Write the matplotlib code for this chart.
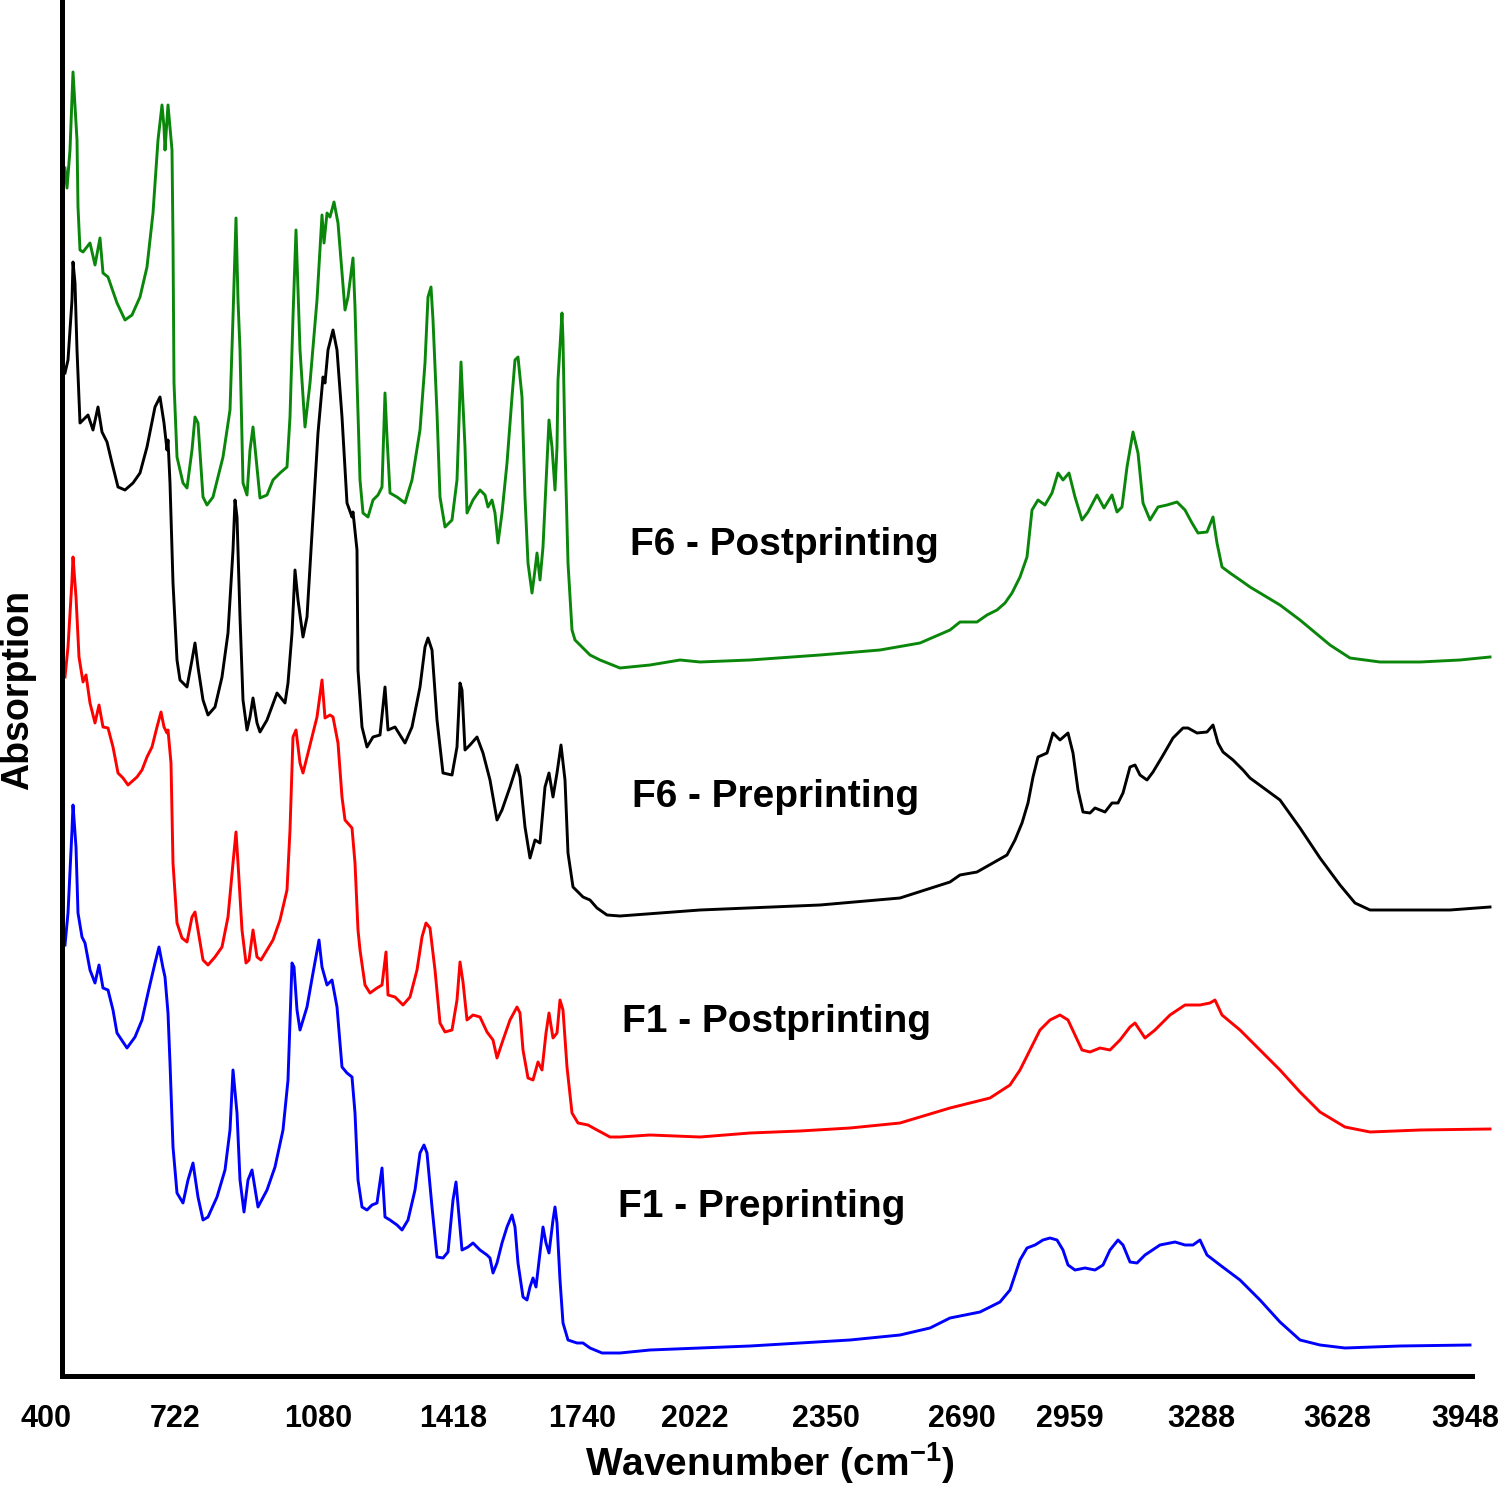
import numpy as np
import matplotlib
matplotlib.use("Agg")
import matplotlib.pyplot as plt

# stacked FTIR spectra (arbitrary absorption units)
green_wn = [447.5, 452.5, 460, 467.5, 477.5, 480, 485, 492.5, 510, 522.5, 535, 542.5, 555, 577.5, 597.5,
            615, 635, 652.5, 667.5, 680, 690, 695, 697.5, 705, 715, 717.5, 720, 727.5, 742.5, 752.5,
            765, 772.5, 780, 792.5, 802.5, 817.5, 842.5, 860, 867.5, 875, 880, 885, 892.5, 902.5, 910,
            917.5, 927.5, 935, 952.5, 967.5, 985, 1002.5, 1010, 1017.5, 1025, 1035, 1047.5, 1060, 1077.5,
            1090, 1095, 1102.5, 1110, 1120, 1130, 1140, 1147.5, 1155, 1167.5, 1172.5, 1177.5, 1185, 1192.5,
            1205, 1217.5, 1230, 1240, 1247.5, 1252.5, 1260, 1277.5, 1297.5, 1315, 1335, 1347.5, 1355,
            1362.5, 1367.5, 1377.5, 1385, 1397.5, 1415, 1427.5, 1437.5, 1447.5, 1452.5, 1467.5, 1485,
            1497.5, 1505, 1515, 1522.5, 1530, 1540, 1552.5, 1565, 1572.5, 1580, 1590, 1597.5, 1605, 1615,
            1622.5, 1627.5, 1635, 1642.5, 1652.5, 1657.5, 1665, 1672.5, 1677.5, 1680, 1690, 1692.5, 1697.5,
            1705, 1715, 1722.5, 1760, 1785, 1835, 1910, 1985, 2035, 2160, 2335, 2485, 2585, 2660, 2685,
            2727.5, 2752.5, 2777.5, 2797.5, 2815, 2835, 2852.5, 2865, 2880, 2897.5, 2915, 2930, 2942.5,
            2957.5, 2972.5, 2990, 3005, 3027.5, 3045, 3065, 3077.5, 3090, 3102.5, 3117.5, 3130, 3142.5,
            3160, 3180, 3202.5, 3227.5, 3247.5, 3265, 3280, 3302.5, 3317.5, 3327.5, 3340, 3360, 3392.5,
            3410, 3485, 3535, 3610, 3660, 3735, 3835, 3935, 4010]
green_abs = [120.8, 118.8, 122.6, 130.4, 123.6, 116.9, 112.6, 112.4, 113.3, 111.1, 113.8, 110.3, 109.9, 107.3, 105.6,
             106.1, 107.9, 110.9, 116.3, 123.6, 127.1, 124.9, 122.6, 127.1, 122.6, 113.6, 99.3, 91.9, 89.3, 88.8,
             92.6, 95.9, 95.3, 87.9, 87.1, 87.9, 91.9, 96.6, 105.9, 115.8, 107.6, 102.6, 89.3, 88.1, 92.6,
             94.9, 90.9, 87.8, 88.1, 89.6, 90.3, 90.9, 95.9, 105.9, 114.6, 102.6, 94.9, 99.3, 107.6,
             116.1, 113.3, 116.3, 115.9, 117.4, 115.3, 110.3, 106.6, 107.9, 111.8, 106.9, 99.6, 89.6, 86.3,
             85.9, 87.6, 88.1, 88.9, 98.3, 93.9, 88.3, 87.9, 87.3, 89.6, 94.6, 101.3, 107.9,
             108.9, 105.6, 96.3, 87.9, 84.9, 85.6, 89.6, 101.4, 92.9, 86.3, 87.6, 88.6,
             88.1, 86.9, 87.6, 86.3, 83.3, 86.3, 91.3, 97.9, 101.6, 101.9, 97.9, 87.9, 81.3, 78.3,
             80.6, 82.3, 79.6, 82.9, 91.3, 95.6, 92.9, 88.6, 92.9, 99.6, 106.3, 103.6, 92.9,
             81.3, 74.6, 73.6, 72.1, 71.6, 70.8, 71.1, 71.6, 71.4, 71.6, 72.1, 72.6, 73.3, 74.6, 75.4,
             75.4, 76.1, 76.6, 77.3, 78.3, 79.9, 81.9, 86.6, 87.6, 87.1, 88.3, 90.3, 89.6,
             90.3, 87.9, 85.6, 86.4, 88.1, 86.8, 88.1, 86.4, 86.9, 90.9, 94.4, 92.3, 87.3,
             85.6, 86.9, 87.1, 87.4, 86.6, 85.3, 84.3, 84.4, 85.9, 83.3, 80.9, 80.3, 79.4,
             78.9, 77.1, 75.6, 73.1, 71.8, 71.4, 71.4, 71.6, 71.9]

black_wn = [447.5, 455, 465, 467.5, 472.5, 477.5, 485, 492.5, 505, 517.5, 530, 540, 552.5, 565, 580,
            597.5, 617.5, 635, 652.5, 672.5, 685, 695, 702.5, 705, 710, 717.5, 727.5, 735, 752.5, 765,
            772.5, 780, 792.5, 805, 822.5, 840, 855, 867.5, 872.5, 877.5, 885, 892.5, 902.5, 910, 917.5,
            927.5, 935, 952.5, 977.5, 997.5, 1005, 1015, 1022.5, 1030, 1042.5, 1052.5, 1065, 1080, 1092.5,
            1097.5, 1105, 1117.5, 1127.5, 1140, 1152.5, 1165, 1167.5, 1177.5, 1180, 1190, 1202.5, 1217.5,
            1235, 1247.5, 1255, 1272.5, 1297.5, 1315, 1335, 1347.5, 1355, 1365, 1377.5, 1392.5, 1415,
            1427.5, 1435, 1440, 1447.5, 1460, 1477.5, 1492.5, 1510, 1527.5, 1540, 1560, 1577.5, 1585,
            1597.5, 1610, 1622.5, 1635, 1647.5, 1657.5, 1667.5, 1677.5, 1687.5, 1697.5, 1705, 1717.5,
            1742.5, 1760, 1777.5, 1802.5, 1835, 2035, 2335, 2535, 2660, 2685, 2727.5, 2767.5, 2802.5,
            2822.5, 2840, 2855, 2867.5, 2880, 2902.5, 2917.5, 2935, 2955, 2967.5, 2980, 2992.5, 3010,
            3022.5, 3047.5, 3065, 3080, 3092.5, 3110, 3122.5, 3135, 3152.5, 3167.5, 3190, 3217.5, 3242.5,
            3255, 3277.5, 3302.5, 3317.5, 3330, 3342.5, 3367.5, 3392.5, 3410, 3485, 3535, 3585, 3635,
            3672.5, 3710, 3785, 3910, 4010]
black_abs = [100.3, 101.6, 107.6, 111.4, 109.3, 102.6, 95.3, 95.6, 96.1, 94.6, 96.9, 94.4, 93.4, 91.3, 88.9,
             88.6, 89.3, 90.3, 92.9, 96.9, 97.9, 95.3, 92.6, 93.6, 89.3, 79.3, 71.6, 69.6, 68.9, 71.6,
             73.3, 70.9, 67.6, 66.1, 66.9, 69.9, 74.3, 82.6, 87.6, 85.9, 75.9, 67.6, 64.6, 65.9, 67.8,
             65.3, 64.4, 65.6, 68.3, 67.3, 69.3, 74.3, 80.6, 77.6, 73.9, 75.9, 84.3, 94.3, 99.9,
             99.3, 102.6, 104.6, 102.6, 95.9, 87.3, 85.9, 86.4, 82.6, 70.6, 64.9, 62.9, 63.9,
             64.1, 68.9, 64.6, 64.9, 63.3, 64.9, 68.9, 72.9, 73.8, 72.6, 65.6, 60.3, 60.1,
             62.9, 69.3, 68.6, 62.6, 63.1, 63.9, 62.3, 59.6, 55.6, 56.6, 58.9, 61.1, 59.9,
             54.9, 51.8, 53.6, 53.3, 58.9, 60.3, 57.9, 60.3, 63.1, 59.6, 52.3, 48.9,
             47.9, 47.6, 46.8, 46.1, 46.0, 46.6, 47.1, 47.8, 49.4, 50.1, 50.4, 51.3, 52.1,
             53.6, 55.3, 57.3, 59.9, 61.9, 62.3, 64.3, 63.6, 64.3, 62.3, 58.6, 56.4, 56.3,
             56.8, 56.4, 57.3, 57.3, 58.3, 60.9, 61.1, 60.1, 59.6, 60.4, 61.9, 63.8, 64.8,
             64.8, 64.3, 64.4, 65.1, 63.3, 62.4, 61.6, 60.6, 59.8, 57.6, 54.8, 51.8, 49.1,
             47.3, 46.6, 46.6, 46.6, 46.9]

red_wn = [447.5, 455, 465, 467.5, 475, 482.5, 492.5, 500, 510, 522.5, 532.5, 542.5, 555, 567.5, 580,
          592.5, 605, 627.5, 640, 652.5, 665, 677.5, 687.5, 695, 702.5, 705, 712.5, 717.5, 727.5, 740,
          752.5, 765, 772.5, 780, 792.5, 805, 822.5, 840, 855, 867.5, 875, 880, 890, 900, 907.5,
          917.5, 927.5, 937.5, 952.5, 967.5, 985, 1002.5, 1010, 1017.5, 1025, 1035, 1042.5, 1052.5, 1065,
          1077.5, 1090, 1097.5, 1110, 1117.5, 1130, 1140, 1147.5, 1165, 1172.5, 1180, 1185, 1197.5, 1210,
          1227.5, 1240, 1250, 1255, 1272.5, 1292.5, 1310, 1327.5, 1340, 1350, 1360, 1372.5, 1385,
          1397.5, 1415, 1427.5, 1435, 1442.5, 1452.5, 1467.5, 1485, 1502.5, 1517.5, 1527.5, 1542.5,
          1560, 1577.5, 1585, 1592.5, 1605, 1617.5, 1630, 1640, 1650, 1657.5, 1667.5, 1677.5, 1685,
          1692.5, 1702.5, 1715, 1730, 1755, 1777.5, 1810, 1835, 1910, 2035, 2160, 2285, 2410, 2535,
          2660, 2760, 2810, 2835, 2860, 2885, 2910, 2935, 2955, 2972.5, 2990, 3010, 3035, 3060, 3085,
          3110, 3122.5, 3147.5, 3172.5, 3210, 3247.5, 3285, 3310, 3322.5, 3340, 3385, 3435, 3485,
          3535, 3585, 3647.5, 3685, 3710, 3835, 4010]
red_abs = [69.9, 72.9, 79.6, 81.9, 77.9, 71.9, 69.4, 70.1, 67.3, 65.3, 67.1, 64.9, 64.8, 62.9, 60.3,
           59.8, 59.1, 59.9, 60.6, 61.9, 62.9, 64.9, 66.4, 64.9, 64.3, 64.6, 61.3, 51.3, 45.3, 43.8,
           43.4, 45.9, 46.4, 44.6, 41.6, 41.1, 41.9, 42.9, 45.9, 51.3, 54.4, 51.3, 44.6, 41.3, 41.6,
           44.6, 41.9, 41.6, 42.6, 43.6, 45.6, 48.6, 54.6, 63.9, 64.6, 61.3, 60.3, 61.9, 63.9,
           65.9, 69.6, 65.8, 66.1, 65.9, 63.3, 57.9, 55.6, 54.8, 51.3, 44.6, 42.6, 39.1, 38.3,
           38.8, 39.1, 42.4, 38.1, 37.9, 37.1, 37.9, 40.6, 43.9, 45.3, 44.8, 40.6, 35.3,
           34.4, 34.6, 37.6, 41.4, 39.4, 35.6, 36.1, 35.9, 34.4, 33.6, 31.8, 33.6,
           35.6, 36.9, 36.3, 32.6, 29.8, 29.6, 31.4, 30.6, 34.3, 36.3, 33.8, 34.3, 37.6,
           36.6, 30.9, 26.3, 25.3, 25.1, 24.6, 23.9, 23.9, 24.1, 23.9, 24.3, 24.5, 24.8, 25.3,
           26.8, 27.8, 29.1, 30.6, 32.6, 34.6, 35.6, 36.1, 35.6, 34.1, 32.6, 32.4, 32.8, 32.6, 33.6,
           34.9, 35.3, 33.8, 34.6, 36.1, 37.1, 37.1, 37.3, 37.6, 36.1, 34.6, 32.6, 30.6,
           28.4, 26.4, 24.9, 24.6, 24.4, 24.6, 24.7]

blue_wn = [447.5, 455, 465, 467.5, 475, 480, 490, 497.5, 510, 522.5, 532.5, 542.5, 555, 567.5, 577.5,
           602.5, 622.5, 640, 655, 672.5, 682.5, 692.5, 697.5, 705, 710, 717.5, 727.5, 742.5, 755, 767.5,
           780, 792.5, 805, 827.5, 847.5, 860, 867.5, 877.5, 885, 895, 905, 915, 930, 952.5, 972.5,
           992.5, 1005, 1015, 1020, 1027.5, 1035, 1052.5, 1067.5, 1082.5, 1090, 1102.5, 1115, 1127.5, 1140,
           1152.5, 1165, 1172.5, 1180, 1190, 1202.5, 1215, 1227.5, 1240, 1247.5, 1260, 1277.5, 1290,
           1305, 1322.5, 1335, 1345, 1352.5, 1365, 1377.5, 1392.5, 1405, 1417.5, 1425, 1430, 1440,
           1455, 1467.5, 1485, 1502.5, 1510, 1517.5, 1527.5, 1540, 1552.5, 1565, 1572.5, 1580, 1592.5,
           1602.5, 1610, 1617.5, 1625, 1635, 1642.5, 1650, 1657.5, 1667.5, 1672.5, 1677.5, 1685, 1692.5,
           1705, 1727.5, 1742.5, 1760, 1790, 1835, 1910, 2035, 2160, 2285, 2410, 2535, 2610, 2660,
           2735, 2785, 2810, 2835, 2852.5, 2872.5, 2892.5, 2910, 2927.5, 2942.5, 2955, 2972.5, 2997.5,
           3022.5, 3042.5, 3060, 3080, 3092.5, 3110, 3127.5, 3147.5, 3185, 3222.5, 3247.5, 3267.5, 3285,
           3302.5, 3335, 3385, 3435, 3485, 3535, 3585, 3647.5, 3785, 3960]
blue_abs = [43.1, 46.3, 54.6, 57.1, 52.9, 46.3, 43.9, 43.3, 40.6, 39.3, 41.1, 38.8, 38.6, 36.6, 34.3,
            32.8, 33.9, 35.6, 38.3, 41.3, 42.9, 40.8, 39.9, 36.3, 31.3, 22.9, 18.3, 17.3, 19.6, 21.3,
            17.9, 15.6, 15.9, 17.9, 20.6, 24.6, 30.6, 26.3, 19.6, 16.4, 19.6, 20.6, 16.9, 18.6, 20.9,
            24.6, 29.6, 41.3, 40.9, 36.6, 34.6, 36.9, 40.3, 43.6, 40.9, 39.1, 39.6, 36.9, 30.9,
            30.3, 29.9, 26.3, 19.6, 16.9, 16.6, 17.1, 17.3, 20.8, 15.9, 15.6, 15.1, 14.6,
            15.6, 18.6, 22.3, 23.1, 22.3, 16.9, 11.9, 11.8, 12.4, 17.6, 19.4, 17.1, 12.6,
            12.9, 13.3, 12.6, 12.1, 11.8, 10.3, 11.3, 13.3, 14.9, 16.1, 14.9, 11.3, 7.9,
            7.6, 8.9, 9.8, 8.9, 12.3, 14.9, 13.3, 12.3, 15.6, 16.9, 15.3, 9.6, 5.3,
            3.6, 3.3, 3.3, 2.8, 2.3, 2.3, 2.6, 2.8, 3.0, 3.3, 3.6, 4.1, 4.8, 5.8,
            6.4, 7.4, 8.6, 11.6, 12.8, 13.1, 13.6, 13.8, 13.6, 12.6, 11.1, 10.6, 10.8,
            10.6, 11.1, 12.6, 13.6, 13.1, 11.4, 11.3, 12.1, 13.1, 13.4, 13.1, 13.1, 13.6,
            12.1, 11.1, 9.6, 7.6, 5.4, 3.6, 3.1, 2.8, 3.0, 3.1]

tick_vals = [400, 722, 1080, 1418, 1740, 2022, 2350, 2690, 2959, 3288, 3628, 3948]
labels = ['F6 - Postprinting', 'F6 - Preprinting', 'F1 - Postprinting', 'F1 - Preprinting']
label_pos = [(1860, 83.1), (1865, 57.9), (1840, 35.4), (1830, 16.9)]

plt.rcParams['font.family'] = ['Liberation Sans', 'DejaVu Sans']
plt.rcParams['mathtext.fontset'] = 'custom'
plt.rcParams['mathtext.rm'] = 'Liberation Sans:bold'
plt.rcParams['mathtext.bf'] = 'Liberation Sans:bold'

fig = plt.figure(figsize=(15, 14.87), dpi=100)
ax = fig.add_axes([40/1500., 111/1487., 1460/1500., 1376/1487.])

ax.plot(green_wn, green_abs, color='#0a870a', lw=2.1)
ax.plot(black_wn, black_abs, color='black', lw=2.1)
ax.plot(red_wn, red_abs, color='#ff0000', lw=2.1)
ax.plot(blue_wn, blue_abs, color='#0000ff', lw=2.1)

for t, (x, y) in zip(labels, label_pos):
    ax.text(x, y, t, fontsize=28, fontweight='bold', ha='left', va='center')

ax.set_xlim(385, 4035)
ax.set_ylim(0, 137.6)
ax.spines['top'].set_visible(False)
ax.spines['right'].set_visible(False)
ax.spines['left'].set_position(('data', 440))
ax.spines['left'].set_linewidth(3.6)
ax.spines['bottom'].set_linewidth(3.6)
ax.spines['bottom'].set_bounds(440, 3965)
ax.set_yticks([])
ax.set_xticks(tick_vals)
ax.set_xticklabels([str(v) for v in tick_vals], fontsize=22, fontweight='bold')
ax.tick_params(axis='x', length=0, pad=20)

fig.text(770/1500., 1 - 1463/1487., r'Wavenumber (cm$^{-1}$)', fontsize=28, fontweight='bold',
         ha='center', va='center')
fig.text(18/1500., 1 - 690/1487., 'Absorption', fontsize=27, fontweight='bold', rotation=90,
         ha='center', va='center')

fig.savefig('out.png', dpi=100)
